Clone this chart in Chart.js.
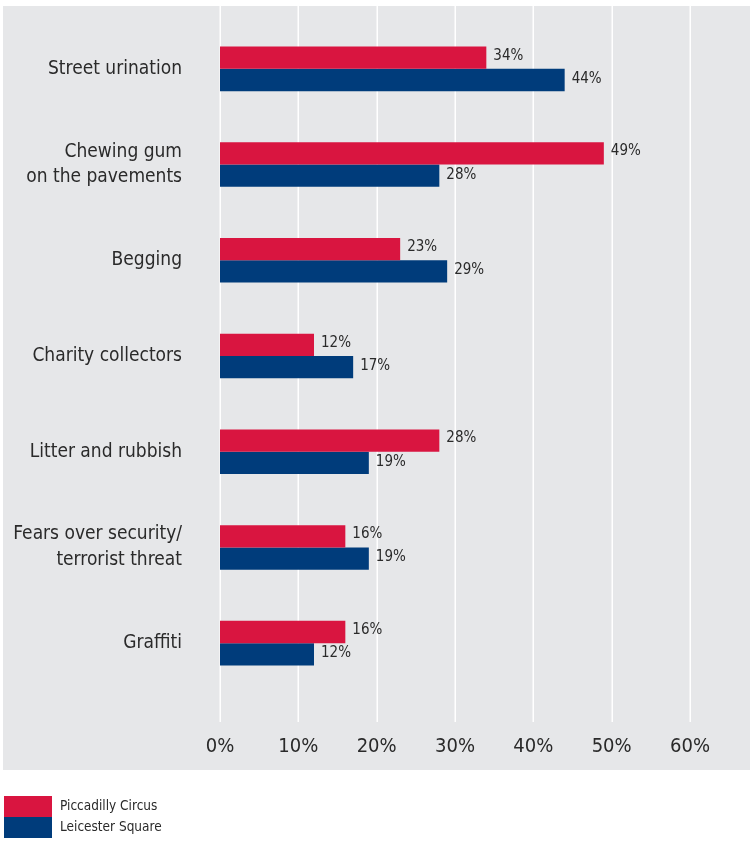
<!DOCTYPE html>
<html>
<head>
<meta charset="utf-8">
<script src="https://cdn.jsdelivr.net/npm/chart.js@4.4.0/dist/chart.umd.min.js"></script>
<style>
  html, body { margin: 0; padding: 0; background: #ffffff; }
  #wrap { position: relative; width: 750px; height: 843px; }
</style>
</head>
<body>
<div id="wrap"><canvas id="c" width="750" height="843"></canvas></div>
<script>
const categories = [
  "Street urination",
  ["Chewing gum", "on the pavements"],
  "Begging",
  "Charity collectors",
  "Litter and rubbish",
  ["Fears over security/", "terrorist threat"],
  "Graffiti"
];
const piccadillyValues = [34, 49, 23, 12, 28, 16, 16];
const leicesterValues  = [44, 28, 29, 17, 19, 19, 12];
const seriesNames = ["Piccadilly Circus", "Leicester Square"];
const xTicks = [0, 10, 20, 30, 40, 50, 60];

const FAMILY = "'DejaVu Sans', sans-serif";
const STRETCH = "condensed";
const RED = "#d91540";
const BLUE = "#003c7b";
const PANEL = "#e6e7e9";
const TEXT = "#2a2a2a";

function cfont(size) { return STRETCH + " " + size + "px " + FAMILY; }

const panelPlugin = {
  id: 'panel',
  beforeDraw(chart) {
    const ctx = chart.ctx;
    ctx.save();
    ctx.fillStyle = PANEL;
    ctx.fillRect(3, 6, 747, 764);
    ctx.restore();
  },
  beforeDatasetsDraw(chart) {
    const ctx = chart.ctx;
    const xs = chart.scales.x;
    ctx.save();
    ctx.strokeStyle = "#ffffff";
    ctx.lineWidth = 1.5;
    xTicks.forEach(v => {
      const px = Math.round(xs.getPixelForValue(v)) + 0.25;
      ctx.beginPath();
      ctx.moveTo(px, 6);
      ctx.lineTo(px, 722);
      ctx.stroke();
    });
    ctx.restore();
  },
  afterDatasetsDraw(chart) {
    const ctx = chart.ctx;
    ctx.save();
    ctx.font = cfont(15);
    ctx.fillStyle = TEXT;
    ctx.textAlign = "left";
    ctx.textBaseline = "middle";
    chart.data.datasets.forEach((ds, di) => {
      const meta = chart.getDatasetMeta(di);
      meta.data.forEach((bar, i) => {
        const off = di === 0 ? -2 : -1;
        ctx.fillText(ds.data[i] + "%", bar.x + 7, bar.y + off);
      });
    });
    // legend
    const ly = [796, 817];
    chart.data.datasets.forEach((ds, di) => {
      ctx.fillStyle = ds.backgroundColor;
      ctx.fillRect(4, ly[di], 48, 21);
      ctx.fillStyle = TEXT;
      ctx.font = cfont(13.5);
      ctx.fillText(ds.label, 60, ly[di] + 10.5);
    });
    ctx.restore();
  }
};

new Chart(document.getElementById('c'), {
  type: 'bar',
  data: {
    labels: categories,
    datasets: [
      { label: seriesNames[0], data: piccadillyValues, backgroundColor: RED, categoryPercentage: 0.466, barPercentage: 1.0 },
      { label: seriesNames[1], data: leicesterValues, backgroundColor: BLUE, categoryPercentage: 0.466, barPercentage: 1.0 }
    ]
  },
  options: {
    indexAxis: 'y',
    responsive: false,
    animation: false,
    layout: { padding: { top: 21, right: 60, bottom: 0, left: 0 } },
    plugins: { legend: { display: false }, tooltip: { enabled: false } },
    scales: {
      x: {
        min: 0, max: 60,
        grid: { display: false },
        border: { display: false },
        afterBuildTicks(scale) { scale.ticks = xTicks.map(v => ({ value: v })); },
        afterFit(scale) { scale.height = 152; scale.paddingLeft = 0; scale.paddingRight = 0; },
        ticks: {
          padding: 36,
          color: TEXT,
          font: { family: FAMILY, weight: STRETCH, size: 20 },
          callback: v => v + "%"
        }
      },
      y: {
        grid: { display: false },
        border: { display: false },
        afterFit(scale) { scale.width = 220; scale.paddingTop = 0; scale.paddingBottom = 0; },
        ticks: {
          padding: 30,
          color: TEXT,
          font: { family: FAMILY, weight: STRETCH, size: 19, lineHeight: 1.36 }
        }
      }
    }
  },
  plugins: [panelPlugin]
});
</script>
</body>
</html>
